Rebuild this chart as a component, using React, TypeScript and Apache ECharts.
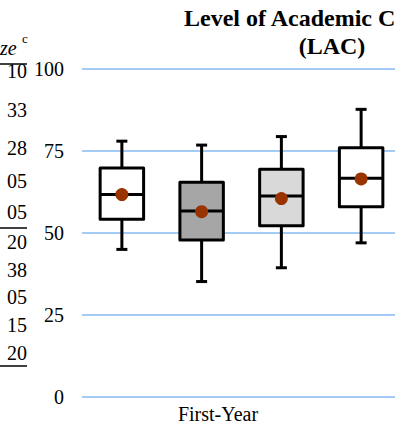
import React, { useEffect, useRef } from "react";
import * as echarts from "echarts";

// ---- data ----
const groups = ["G1", "G2", "G3", "G4"];
const mins = [45, 35.2, 39.4, 47];
const q1s = [54.2, 47.9, 52.2, 58];
const medians = [61.7, 56.7, 61.3, 66.7];
const q3s = [69.8, 65.5, 69.4, 76];
const maxs = [78, 76.8, 79.4, 87.7];
const means = [61.7, 56.5, 60.5, 66.5];
const categoryLabel = "First-Year";
const titleLine1 = "Level of Academic C";
const titleLine2 = "(LAC)";
const tableHeader = "ze";
const tableSup = "c";
const tableCells = ["10", "33", "28", "05", "05", "20", "38", "05", "15", "20"];

// ---- styles ----
const boxFills = ["#ffffff", "#a6a6a6", "#d9d9d9", "#ffffff"];
const gridColor = "#a3cbf3";
const meanColor = "#993300";
const FONT = "Liberation Serif";

function txt(x: number, y: number, text: string, size: number, align: string, extra: any = {}) {
  return {
    type: "text",
    x,
    y,
    style: {
      text,
      fontFamily: FONT,
      fontSize: size,
      fill: "#000",
      align,
      verticalAlign: "middle",
      ...extra,
    },
  };
}

export default function App() {
  const ref = useRef<HTMLDivElement>(null);
  useEffect(() => {
    document.body.style.margin = "0";
    if (!ref.current) return;
    const chart = echarts.init(ref.current, null, { renderer: "svg" });

    const data = groups.map((_, i) => [i, mins[i], q1s[i], medians[i], q3s[i], maxs[i], means[i]]);

    const rowY = [71, 110, 148, 181, 212, 242, 270, 297, 325, 353];
    const tableTexts = tableCells.map((t, i) => txt(27, rowY[i], t, 20, "right"));

    chart.setOption({
      animation: false,
      backgroundColor: "#ffffff",
      grid: [
        { left: 82, right: 6, top: 69, bottom: 30 },
        { left: 82, width: 331, top: 69, bottom: 30 },
      ],
      xAxis: [
        { type: "category", gridIndex: 0, data: [categoryLabel], show: false },
        { type: "category", gridIndex: 1, data: groups, show: false },
      ],
      yAxis: [
        {
          type: "value",
          gridIndex: 0,
          min: 0,
          max: 100,
          interval: 25,
          axisLine: { show: false },
          axisTick: { show: false },
          axisLabel: { fontFamily: FONT, fontSize: 20, color: "#000", margin: 18 },
          splitLine: { lineStyle: { color: gridColor, width: 2 } },
        },
        { type: "value", gridIndex: 1, min: 0, max: 100, show: false, splitLine: { show: false } },
      ],
      series: [
        {
          type: "custom",
          xAxisIndex: 1,
          yAxisIndex: 1,
          encode: { x: 0, y: [1, 2, 3, 4, 5, 6] },
          data,
          renderItem: (params: any, api: any) => {
            const i = api.value(0);
            const lo = api.coord([i, api.value(1)]);
            const q1 = api.coord([i, api.value(2)]);
            const med = api.coord([i, api.value(3)]);
            const q3 = api.coord([i, api.value(4)]);
            const hi = api.coord([i, api.value(5)]);
            const mn = api.coord([i, api.value(6)]);
            const bw = api.size([1, 0])[0] * 0.545;
            const cx = lo[0];
            const cap = 5.5;
            const ls = { stroke: "#000", lineWidth: 3 };
            return {
              type: "group",
              children: [
                { type: "line", shape: { x1: cx, y1: hi[1], x2: cx, y2: q3[1] }, style: ls },
                { type: "line", shape: { x1: cx, y1: q1[1], x2: cx, y2: lo[1] }, style: ls },
                { type: "line", shape: { x1: cx - cap, y1: hi[1], x2: cx + cap, y2: hi[1] }, style: ls },
                { type: "line", shape: { x1: cx - cap, y1: lo[1], x2: cx + cap, y2: lo[1] }, style: ls },
                {
                  type: "rect",
                  shape: { x: cx - bw / 2, y: q3[1], width: bw, height: q1[1] - q3[1] },
                  style: { fill: boxFills[params.dataIndex], stroke: "#000", lineWidth: 3, lineJoin: "round" },
                },
                { type: "line", shape: { x1: cx - bw / 2, y1: med[1], x2: cx + bw / 2, y2: med[1] }, style: ls },
                { type: "circle", shape: { cx, cy: mn[1], r: 6.5 }, style: { fill: meanColor } },
              ],
            };
          },
        },
      ],
      graphic: [
        txt(184, 18, titleLine1, 24, "left", { fontWeight: "bold" }),
        txt(332, 46, titleLine2, 24, "center", { fontWeight: "bold" }),
        txt(218, 414, categoryLabel, 20, "center"),
        txt(0, 48, tableHeader, 20, "left", { fontStyle: "italic" }),
        txt(22, 38, tableSup, 13, "left"),
        ...tableTexts,
        { type: "line", shape: { x1: 0, y1: 64, x2: 27, y2: 64 }, style: { stroke: "#000", lineWidth: 1.5 } },
        { type: "line", shape: { x1: 0, y1: 228, x2: 27, y2: 228 }, style: { stroke: "#000", lineWidth: 1.5 } },
        { type: "line", shape: { x1: 0, y1: 366, x2: 27, y2: 366 }, style: { stroke: "#000", lineWidth: 1.5 } },
      ],
    });
    return () => chart.dispose();
  }, []);
  return <div ref={ref} style={{ width: 401, height: 427 }} />;
}
